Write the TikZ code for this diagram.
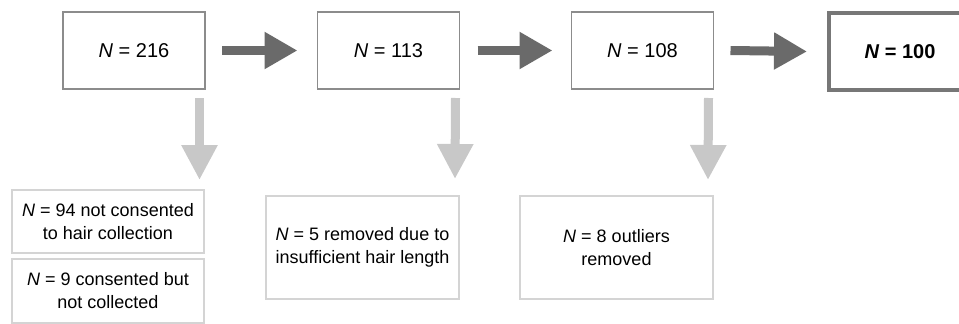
\documentclass[tikz,border=0pt]{standalone}
\usepackage{fontspec}
\setmainfont{Liberation Sans}
\usetikzlibrary{arrows.meta,calc}
\definecolor{topline}{HTML}{8C8C8C}
\definecolor{botline}{HTML}{D4D4D4}
\definecolor{darkarrow}{HTML}{6A6A6A}
\definecolor{lightarrow}{HTML}{C8C8C8}
\definecolor{thickline}{HTML}{777777}
\begin{document}
\begin{tikzpicture}[x=1pt,y=-1pt,
  topbox/.style={draw=topline, line width=1.2pt, fill=white, minimum width=142pt, minimum height=77pt, inner sep=0pt, outer sep=0pt, font=\fontsize{20}{24}\selectfont},
  botbox/.style={draw=botline, line width=1.2pt, minimum width=192pt, align=center, inner sep=0pt, outer sep=0pt, font=\fontsize{18}{23}\selectfont},
  darrow/.style={draw=darkarrow, line width=9pt, -{Triangle[length=33pt,width=35pt]}},
  larrow/.style={draw=lightarrow, line width=9pt, -{Triangle[length=35pt,width=34pt]}}]
\useasboundingbox (0,0) rectangle (959,324);
\clip (0,0) rectangle (959,324);
\fill[white] (0,0) rectangle (959,324);
% top row
\node[topbox] (b1) at (134,50.5) {\textit{N} = 216};
\node[topbox] (b2) at (388.5,50.5) {\textit{N} = 113};
\node[topbox] (b3) at (642.5,50.5) {\textit{N} = 108};
\node[topbox, draw=thickline, line width=4pt, font=\fontsize{20}{24}\selectfont\bfseries] (b4) at (900,51.5) {\textit{N} = 100};
% bottom boxes
\node[botbox, minimum height=63pt] (a) at (108,221.5) {\textit{N} = 94 not consented\\to hair collection};
\node[botbox, minimum height=64pt] (bb) at (108,291) {\textit{N} = 9 consented but\\not collected};
\node[botbox, minimum width=193pt, minimum height=103pt] (c) at (362.5,247.5) {\textit{N} = 5 removed due to\\insufficient hair length};
\node[botbox, minimum width=193pt, minimum height=103pt] (d) at (616.5,247.5) {\textit{N} = 8 outliers\\removed};
% horizontal arrows
\draw[darrow] ($(b1.east)+(17,0)$) -- ($(b2.west)+(-20,0)$);
\draw[darrow] ($(b2.east)+(18,0)$) -- ($(b3.west)+(-19,0)$);
\draw[darrow] ($(b3.east)+(17,0)$) -- ($(b4.west)+(-22,0)$);
% vertical arrows
\draw[larrow] ($(b1.south east)+(-5.5,9)$) -- ($(a.north east)+(-4.5,-10)$);
\draw[larrow] ($(b2.south east)+(-4,9)$) -- ($(c.north east)+(-4,-17)$);
\draw[larrow] ($(b3.south east)+(-5,9)$) -- ($(d.north east)+(-5,-16)$);
\end{tikzpicture}
\end{document}
